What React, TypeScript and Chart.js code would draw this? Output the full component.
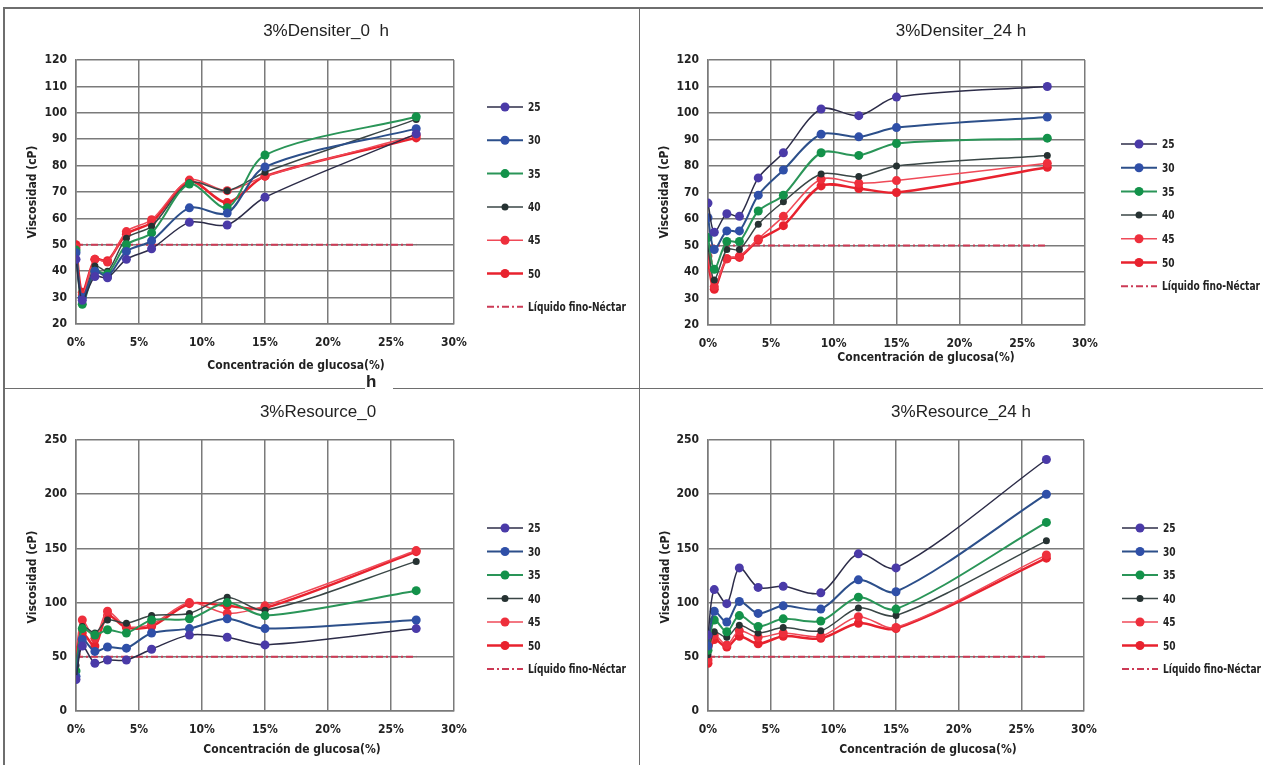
import React, { useEffect, useRef } from 'react';
import { Chart, registerables } from 'chart.js';
Chart.register(...registerables);

// ---------- data ----------
const glucose = [0, 0.5, 1.5, 2.5, 4, 6, 9, 12, 15, 27];
const temps = ['25', '30', '35', '40', '45', '50'];
const xTicks = [0, 5, 10, 15, 20, 25, 30];
const limitLabel = 'Líquido fino-Néctar';
const limitValue = 50;
const limitRange = [0, 27];

const densiter0h_25 = [44.5, 29, 38, 37.5, 44.5, 48.5, 58.5, 57.5, 68, 92];
const densiter0h_30 = [47, 30, 40, 38, 47.5, 51.5, 64, 62, 79.5, 94];
const densiter0h_35 = [48, 27.5, 40, 39, 50, 54.5, 73, 64, 84, 98.5];
const densiter0h_40 = [48, 29, 42, 40, 52.5, 57, 73.5, 70.5, 77.5, 97.5];
const densiter0h_45 = [49, 31, 44.5, 43.5, 55, 59.5, 74.5, 70.5, 76, 91.5];
const densiter0h_50 = [50, 32, 44.5, 44, 54, 58.5, 74, 66, 76, 90.5];

const densiter24h_25 = [66, 55, 62, 61, 75.5, 85, 101.5, 99, 106, 110];
const densiter24h_30 = [60.5, 48.5, 55.5, 55.5, 69, 78.5, 92, 91, 94.5, 98.5];
const densiter24h_35 = [53, 41, 51.5, 51.5, 63, 69, 85, 84, 88.5, 90.5];
const densiter24h_40 = [49, 37, 48.5, 48.5, 58, 66.5, 77, 76, 80, 84];
const densiter24h_45 = [46, 34.5, 45, 46, 52.5, 61, 75, 73.5, 74.5, 81];
const densiter24h_50 = [44, 33.5, 45, 45.5, 52, 57.5, 72.5, 71.5, 70, 79.5];

const resource0h_25 = [29, 60, 44, 47, 47, 57, 70, 68, 61, 76];
const resource0h_30 = [32, 66, 55, 59, 58, 72, 76, 85, 76, 84];
const resource0h_35 = [37, 76, 70, 75, 72, 84, 85, 100, 88, 111];
const resource0h_40 = [42, 78, 72, 84, 81, 88, 90, 105, 93, 138];
const resource0h_45 = [56, 84, 67, 92, 78, 80, 100, 90, 97, 148];
const resource0h_50 = [52, 72, 60, 88, 77, 78, 99, 97, 95, 147];

const resource24h_25 = [70, 112, 99, 132, 114, 115, 109, 145, 132, 232];
const resource24h_30 = [60, 92, 82, 101, 90, 97, 94, 121, 110, 200];
const resource24h_35 = [56, 84, 73, 88, 78, 85, 83, 105, 94, 174];
const resource24h_40 = [52, 73, 68, 79, 72, 77, 74, 95, 88, 157];
const resource24h_45 = [47, 70, 61, 74, 68, 72, 69, 87, 77, 144];
const resource24h_50 = [44, 66, 59, 69, 62, 69, 67, 81, 76, 141];

const densiterYTicks = [20, 120, 10];
const resourceYTicks = [0, 250, 50];

// ---------- styles ----------
const FONT = '"Liberation Sans Narrow", "DejaVu Sans Condensed", "Liberation Sans", sans-serif';
const TITLE_FONT = '"Liberation Sans", "DejaVu Sans", sans-serif';
const GRID = '#7a7a7a';
const lineColors = ['#2c2c48', '#2c4f8a', '#2a9558', '#3a4646', '#ef4a58', '#e8222e'];
const markerColors = ['#4a3aa8', '#2f4fa8', '#13924a', '#263232', '#ee2f3c', '#e8222e'];
const lineWidths = [1.5, 2, 2, 1.5, 1.5, 2.5];
const markerRadii = [4.5, 4.5, 4.5, 3.5, 4.5, 4.5];
const limitColor = '#cc3a55';

const decorPlugin = {
  id: 'decor',
  afterDraw(chart: any, _args: any, o: any) {
    const ctx = chart.ctx as CanvasRenderingContext2D;
    ctx.save();
    ctx.fillStyle = '#222';
    ctx.textAlign = 'center';
    ctx.textBaseline = 'middle';
    ctx.font = `17px ${TITLE_FONT}`;
    ctx.fillText(o.title, o.titleX, o.titleY);
    ctx.font = `bold 12px ${FONT}`;
    ctx.fillText(o.xTitle, o.xTitleX, o.xTitleY);
    ctx.save();
    ctx.translate(o.yTitleX, o.yTitleY);
    ctx.rotate(-Math.PI / 2);
    ctx.fillText(o.yTitle, 0, 0);
    ctx.restore();
    // legend
    chart.data.datasets.forEach((ds: any, i: number) => {
      const y = o.legendY0 + i * o.legendStep;
      const x = o.legendX;
      ctx.save();
      ctx.strokeStyle = ds.borderColor;
      ctx.lineWidth = ds.borderWidth;
      ctx.setLineDash(ds.borderDash || []);
      ctx.beginPath();
      ctx.moveTo(x, y);
      ctx.lineTo(x + 36, y);
      ctx.stroke();
      ctx.setLineDash([]);
      if (ds.pointRadius > 0) {
        ctx.fillStyle = ds.pointBackgroundColor;
        ctx.beginPath();
        ctx.arc(x + 18, y, ds.pointRadius, 0, Math.PI * 2);
        ctx.fill();
      }
      ctx.fillStyle = '#222';
      ctx.font = `bold 12px ${FONT}`;
      ctx.textAlign = 'left';
      ctx.textBaseline = 'middle';
      ctx.translate(x + 41, y + 1);
      ctx.scale(0.84, 1);
      ctx.fillText(ds.label, 0, 0);
      ctx.restore();
    });
    ctx.restore();
  },
};

type PanelCfg = {
  left: number; top: number; w: number; h: number;
  series: number[][];
  yTicks: number[];
  padding: { left: number; right: number; top: number; bottom: number };
  decor: any;
};

const panels: PanelCfg[] = [
  {
    left: 0, top: 0, w: 639, h: 388,
    series: [densiter0h_25, densiter0h_30, densiter0h_35, densiter0h_40, densiter0h_45, densiter0h_50],
    yTicks: densiterYTicks,
    padding: { left: 36, right: 185, top: 60, bottom: 24 },
    decor: { title: '3%Densiter_0  h', titleX: 326, titleY: 31, xTitleX: 296, xTitleY: 366, yTitleX: 33, yTitleY: 192, legendX: 487, legendY0: 107, legendStep: 33.3 },
  },
  {
    left: 639, top: 0, w: 624, h: 388,
    series: [densiter24h_25, densiter24h_30, densiter24h_35, densiter24h_40, densiter24h_45, densiter24h_50],
    yTicks: densiterYTicks,
    padding: { left: 29, right: 178, top: 60, bottom: 23 },
    decor: { title: '3%Densiter_24 h', titleX: 322, titleY: 31, xTitleX: 287, xTitleY: 358, yTitleX: 26, yTitleY: 192, legendX: 482, legendY0: 144, legendStep: 23.7 },
  },
  {
    left: 0, top: 389, w: 639, h: 376,
    series: [resource0h_25, resource0h_30, resource0h_35, resource0h_40, resource0h_45, resource0h_50],
    yTicks: resourceYTicks,
    padding: { left: 36, right: 185, top: 51, bottom: 14 },
    decor: { title: '3%Resource_0', titleX: 318, titleY: 23, xTitleX: 292, xTitleY: 361, yTitleX: 33, yTitleY: 188, legendX: 487, legendY0: 139, legendStep: 23.5 },
  },
  {
    left: 639, top: 389, w: 624, h: 376,
    series: [resource24h_25, resource24h_30, resource24h_35, resource24h_40, resource24h_45, resource24h_50],
    yTicks: resourceYTicks,
    padding: { left: 29, right: 179, top: 51, bottom: 14 },
    decor: { title: '3%Resource_24 h', titleX: 322, titleY: 23, xTitleX: 289, xTitleY: 361, yTitleX: 27, yTitleY: 188, legendX: 483, legendY0: 139, legendStep: 23.5 },
  },
];

function Panel({ cfg }: { cfg: PanelCfg }) {
  const ref = useRef<HTMLCanvasElement>(null);
  useEffect(() => {
    const datasets: any[] = cfg.series.map((vals, i) => ({
      label: temps[i],
      data: glucose.map((g, j) => ({ x: g, y: vals[j] })),
      borderColor: lineColors[i],
      borderWidth: lineWidths[i],
      pointBackgroundColor: markerColors[i],
      pointBorderColor: markerColors[i],
      pointBorderWidth: 0,
      pointRadius: markerRadii[i],
      tension: 0.3,
      fill: false,
      order: 0,
    }));
    datasets.push({
      label: limitLabel,
      data: limitRange.map((g) => ({ x: g, y: limitValue })),
      borderColor: limitColor,
      borderWidth: 2,
      borderDash: [7, 3, 2, 3],
      pointRadius: 0,
      tension: 0,
      fill: false,
      order: 1,
    });
    const [ymin, ymax, ystep] = cfg.yTicks;
    const chart = new Chart(ref.current!, {
      type: 'line',
      data: { datasets },
      plugins: [decorPlugin],
      options: {
        animation: false,
        responsive: false,
        events: [],
        layout: { padding: cfg.padding },
        plugins: {
          legend: { display: false },
          title: { display: false },
          tooltip: { enabled: false },
          decor: { ...cfg.decor, xTitle: 'Concentración de glucosa(%)', yTitle: 'Viscosidad (cP)' },
        } as any,
        scales: {
          x: {
            type: 'linear',
            min: xTicks[0],
            max: xTicks[xTicks.length - 1],
            afterBuildTicks: (s: any) => { s.ticks = xTicks.map((v) => ({ value: v })); },
            afterFit: (s: any) => { s.height = 40; },
            grid: { color: GRID, lineWidth: 1.5, drawTicks: false },
            border: { color: GRID, width: 1.5 },
            ticks: { padding: 12, color: '#222', font: { family: FONT, size: 12, weight: 'bold' }, callback: (v: any) => `${v}%`, maxRotation: 0 },
          },
          y: {
            type: 'linear',
            min: ymin,
            max: ymax,
            afterFit: (s: any) => { s.width = 40; },
            grid: { color: GRID, lineWidth: 1.5, drawTicks: false },
            border: { color: GRID, width: 1.5 },
            ticks: { stepSize: ystep, padding: 9, color: '#222', font: { family: FONT, size: 12, weight: 'bold' } },
          },
        },
      } as any,
    });
    return () => chart.destroy();
  }, []);
  return (
    <canvas
      ref={ref}
      width={cfg.w}
      height={cfg.h}
      style={{ position: 'absolute', left: cfg.left, top: cfg.top, width: cfg.w, height: cfg.h }}
    />
  );
}

const line = (l: number, t: number, w: number, h: number) => (
  <div style={{ position: 'absolute', left: l, top: t, width: w, height: h, background: '#6e6e6e' }} />
);

export default function App() {
  return (
    <div style={{ position: 'absolute', left: 0, top: 0, width: 1263, height: 765, background: '#fff', overflow: 'hidden' }}>
      {panels.map((p, i) => <Panel key={i} cfg={p} />)}
      {line(3, 7, 1260, 1.5)}
      {line(3, 7, 1.5, 758)}
      {line(638.5, 7, 1.5, 758)}
      {line(3, 387.5, 362, 1.5)}
      {line(393, 387.5, 870, 1.5)}
      <div style={{ position: 'absolute', left: 366, top: 372, fontFamily: TITLE_FONT, fontWeight: 'bold', fontSize: 17, lineHeight: '20px', color: '#222' }}>h</div>
    </div>
  );
}
